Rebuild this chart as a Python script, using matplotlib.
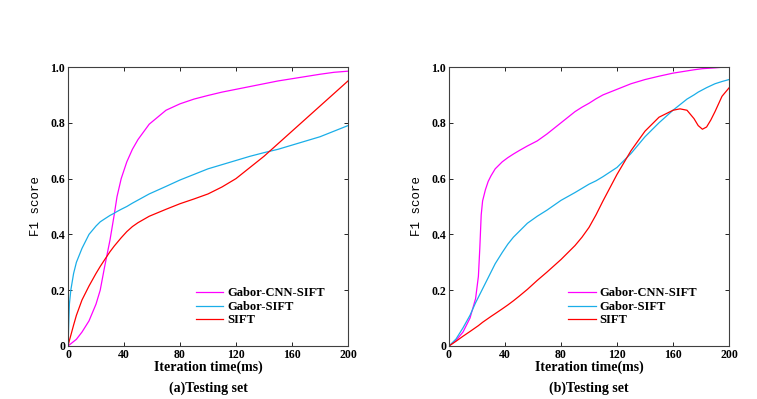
import matplotlib
matplotlib.use("Agg")
import matplotlib.pyplot as plt

# panel (a) testing set
a_x = [0, 1, 2, 4, 6, 10, 15, 20, 23, 26, 30, 33, 35, 38, 42, 46, 50, 58, 70, 80, 90, 100, 110, 120, 130, 140, 150, 160, 170, 180, 190, 200]
a_gcs = [0, 0.004, 0.008, 0.016, 0.024, 0.05, 0.09, 0.15, 0.2, 0.28, 0.38, 0.47, 0.535, 0.6, 0.66, 0.705, 0.74, 0.795, 0.845, 0.868, 0.885,
         0.898, 0.91, 0.92, 0.93, 0.94, 0.95, 0.958, 0.966, 0.974, 0.981, 0.985]
a_gs = [0, 0.15, 0.2, 0.26, 0.3, 0.35, 0.4, 0.43, 0.445, 0.455, 0.468, 0.476, 0.482, 0.49, 0.5, 0.512, 0.523, 0.545, 0.572, 0.595, 0.615,
        0.635, 0.65, 0.665, 0.68, 0.693, 0.705, 0.72, 0.735, 0.75, 0.77, 0.79]
a_s = [0, 0.02, 0.038, 0.075, 0.11, 0.165, 0.215, 0.26, 0.285, 0.308, 0.338, 0.358, 0.37, 0.388, 0.41, 0.428, 0.442, 0.465, 0.49, 0.51, 0.527,
       0.545, 0.57, 0.6, 0.64, 0.68, 0.725, 0.77, 0.815, 0.86, 0.905, 0.95]

# panel (b) testing set
b_x = [0, 5, 10, 15, 19, 21, 22, 23, 24, 26, 28, 30, 33, 38, 42, 46, 50, 56, 63, 70, 80, 90, 95, 100, 105, 110, 120, 130, 140, 150,
       160, 165, 170, 175, 178, 181, 184, 187, 190, 195, 200]
b_gcs = [0, 0.02, 0.05, 0.1, 0.17, 0.25, 0.35, 0.47, 0.52, 0.56, 0.59, 0.61, 0.635, 0.66, 0.675, 0.688, 0.7, 0.717, 0.735, 0.76, 0.8,
         0.84, 0.856, 0.87, 0.886, 0.9, 0.92, 0.94, 0.955, 0.967, 0.978, 0.982, 0.986, 0.99, 0.992, 0.994, 0.995, 0.996, 0.997, 0.999, 1.0]
b_gs = [0, 0.025, 0.065, 0.11, 0.155, 0.175, 0.185, 0.195, 0.205, 0.225, 0.245, 0.265, 0.295, 0.335, 0.365, 0.39, 0.41, 0.44, 0.465,
        0.487, 0.522, 0.55, 0.565, 0.58, 0.592, 0.607, 0.64, 0.69, 0.75, 0.8, 0.845, 0.865, 0.885, 0.9, 0.91, 0.918, 0.926, 0.933,
        0.94, 0.948, 0.955]
b_s = [0, 0.017, 0.035, 0.052, 0.066, 0.073, 0.077, 0.081, 0.085, 0.092, 0.099, 0.106, 0.116, 0.133, 0.147, 0.162, 0.178, 0.203,
       0.235, 0.265, 0.31, 0.36, 0.39, 0.425, 0.47, 0.52, 0.615, 0.7, 0.77, 0.82, 0.845, 0.85, 0.845, 0.815, 0.79, 0.777, 0.785,
       0.81, 0.84, 0.895, 0.925]

labels = ["Gabor-CNN-SIFT", "Gabor-SIFT", "SIFT"]
colors = ["#FF00FF", "#1AAEE8", "#FF0000"]
xticks = [0, 40, 80, 120, 160, 200]
yticks = [0, 0.2, 0.4, 0.6, 0.8, 1.0]
yticklabels = ["0", "0.2", "0.4", "0.6", "0.8", "1.0"]
captions = ["(a)Testing set", "(b)Testing set"]

plt.rcParams["font.family"] = ["Liberation Serif", "DejaVu Serif"]

fig = plt.figure(figsize=(7.57, 3.99), dpi=100)
lefts = [68 / 757, 449 / 757]
legend_x = [0.457, 0.425]
panels = [(a_x, [a_gcs, a_gs, a_s]), (b_x, [b_gcs, b_gs, b_s])]

for i in range(2):
    ax = fig.add_axes([lefts[i], 53 / 399, 280 / 757, 279 / 399])
    xs, series = panels[i]
    for ys, lab, col in zip(series, labels, colors):
        ax.plot(xs, ys, color=col, lw=0.9, label=lab)
    ax.set_xlim(0, 200)
    ax.set_ylim(0, 1.0)
    ax.set_xticks(xticks)
    ax.set_xticklabels([str(t) for t in xticks], fontweight="bold", fontsize=8.5)
    ax.set_yticks(yticks)
    ax.set_yticklabels(yticklabels, fontweight="bold", fontsize=8.5)
    ax.tick_params(direction="in", top=True, right=True, length=3, width=0.6, pad=2)
    for sp in ax.spines.values():
        sp.set_color("#404040")
        sp.set_linewidth(0.8)
    ax.set_ylabel("F1 score", family=["Liberation Mono", "DejaVu Sans Mono"], fontsize=9, labelpad=6)
    ax.set_xlabel("Iteration time(ms)", fontweight="bold", fontsize=10, labelpad=0)
    ax.text(0.5, -0.15, captions[i], transform=ax.transAxes, ha="center", va="center",
            fontweight="bold", fontsize=10)
    ax.legend(loc="lower left", bbox_to_anchor=(legend_x[i], 0.07), frameon=False,
              prop={"weight": "bold", "size": 9}, handlelength=2.2, handletextpad=0.3,
              labelspacing=0.12, borderaxespad=0, borderpad=0)

fig.savefig("out.png", dpi=100)
